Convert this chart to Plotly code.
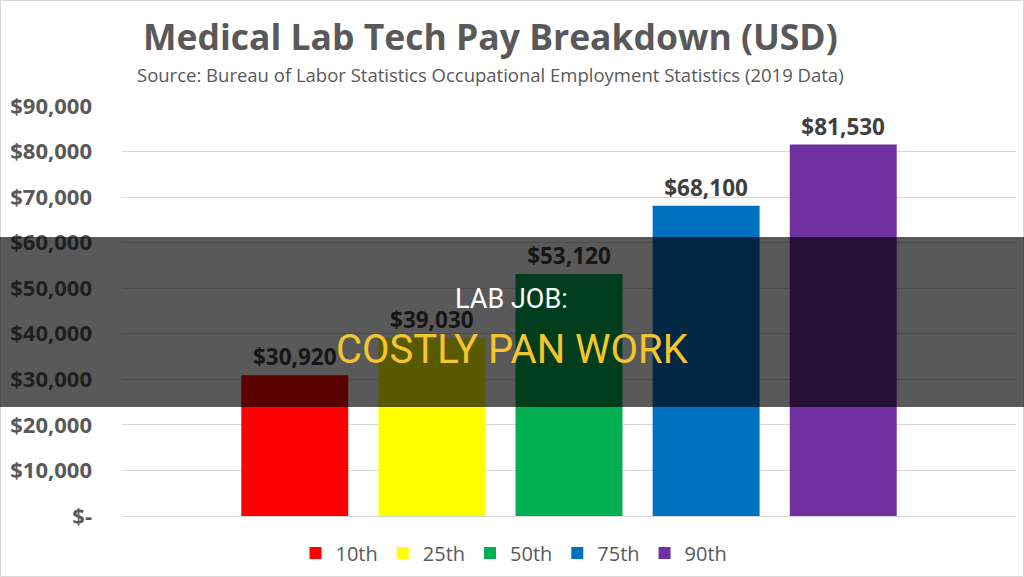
import plotly.graph_objects as go

categories = ["10th", "25th", "50th", "75th", "90th"]
values = [30920, 39030, 53120, 68100, 81530]
colors = ["#FF0000", "#FFFF00", "#00B050", "#0070C0", "#7030A0"]
tick_vals = [0, 10000, 20000, 30000, 40000, 50000, 60000, 70000, 80000, 90000]
tick_text = ["$-", "$10,000", "$20,000", "$30,000", "$40,000", "$50,000",
             "$60,000", "$70,000", "$80,000", "$90,000"]

W, H = 1024, 577
L, R, T, B = 122, 8, 106, 61
PW, PH = W - L - R, H - T - B


def px(x):
    return (x - L) / PW


def py(y):
    return (H - B - y) / PH


fig = go.Figure()
for cat, val, col in zip(categories, values, colors):
    fig.add_trace(go.Bar(
        x=[cat], y=[val], name=cat, marker=dict(color=col, line=dict(width=0)),
        width=0.78, text=[f"${val:,}"], textposition="outside",
        textfont=dict(family="Open Sans", size=22.5, color="#404040", weight="bold"),
        cliponaxis=False,
    ))

fig.update_layout(
    width=W, height=H,
    paper_bgcolor="white", plot_bgcolor="white",
    margin=dict(l=L, r=R, t=T, b=B, autoexpand=False),
    barmode="overlay",
    showlegend=True,
    legend=dict(orientation="h", xref="paper", yref="paper",
                x=px(514), xanchor="center", y=py(553), yanchor="middle",
                font=dict(family="Open Sans", size=20, color="#595959"),
                itemwidth=30, traceorder="normal"),
    xaxis=dict(type="category", categoryorder="array", categoryarray=categories,
               range=[-1.26, 5.26], showticklabels=False, showgrid=False,
               zeroline=False, showline=False, automargin=False),
    yaxis=dict(range=[0, 90000], tickvals=tick_vals, ticktext=tick_text,
               showgrid=True, gridcolor="#D9D9D9", gridwidth=1,
               zeroline=True, zerolinecolor="#D9D9D9", zerolinewidth=1,
               ticklabelstandoff=29, automargin=False,
               tickfont=dict(family="Open Sans", size=22, color="#595959", weight="bold")),
    font=dict(family="Open Sans"),
)

fig.add_annotation(text="Medical Lab Tech Pay Breakdown (USD)", xref="paper", yref="paper",
                   x=px(490), y=py(36), xanchor="center", yanchor="middle",
                   showarrow=False, font=dict(family="Open Sans", size=35.5, color="#595959", weight="bold"))
fig.add_annotation(text="Source: Bureau of Labor Statistics Occupational Employment Statistics (2019 Data)",
                   xref="paper", yref="paper",
                   x=px(490), y=py(75), xanchor="center", yanchor="middle",
                   showarrow=False, font=dict(family="Open Sans", size=18.5, color="#595959"))

# dark banner overlay
fig.add_shape(type="rect", xref="paper", yref="paper",
              x0=px(0), x1=px(W), y0=py(407), y1=py(237),
              fillcolor="rgba(0,0,0,0.65)", line=dict(width=0), layer="above")
fig.add_annotation(text="LAB JOB:", xref="paper", yref="paper",
                   x=px(511), y=py(299), xanchor="center", yanchor="middle",
                   showarrow=False, font=dict(family="Roboto", size=27, color="white"))
fig.add_annotation(text="COSTLY PAN WORK", xref="paper", yref="paper",
                   x=px(512), y=py(349), xanchor="center", yanchor="middle",
                   showarrow=False, font=dict(family="Roboto", size=40, color="#F5C52D"))
# thin outer border
fig.add_shape(type="rect", xref="paper", yref="paper",
              x0=px(0.5), x1=px(W - 0.5), y0=py(H - 0.5), y1=py(0.5),
              fillcolor="rgba(0,0,0,0)", line=dict(width=1, color="#D9D9D9"), layer="below")

fig.write_html("out.html", config={"displayModeBar": False},
               post_script="document.body.style.margin='0';document.body.style.padding='0';")
